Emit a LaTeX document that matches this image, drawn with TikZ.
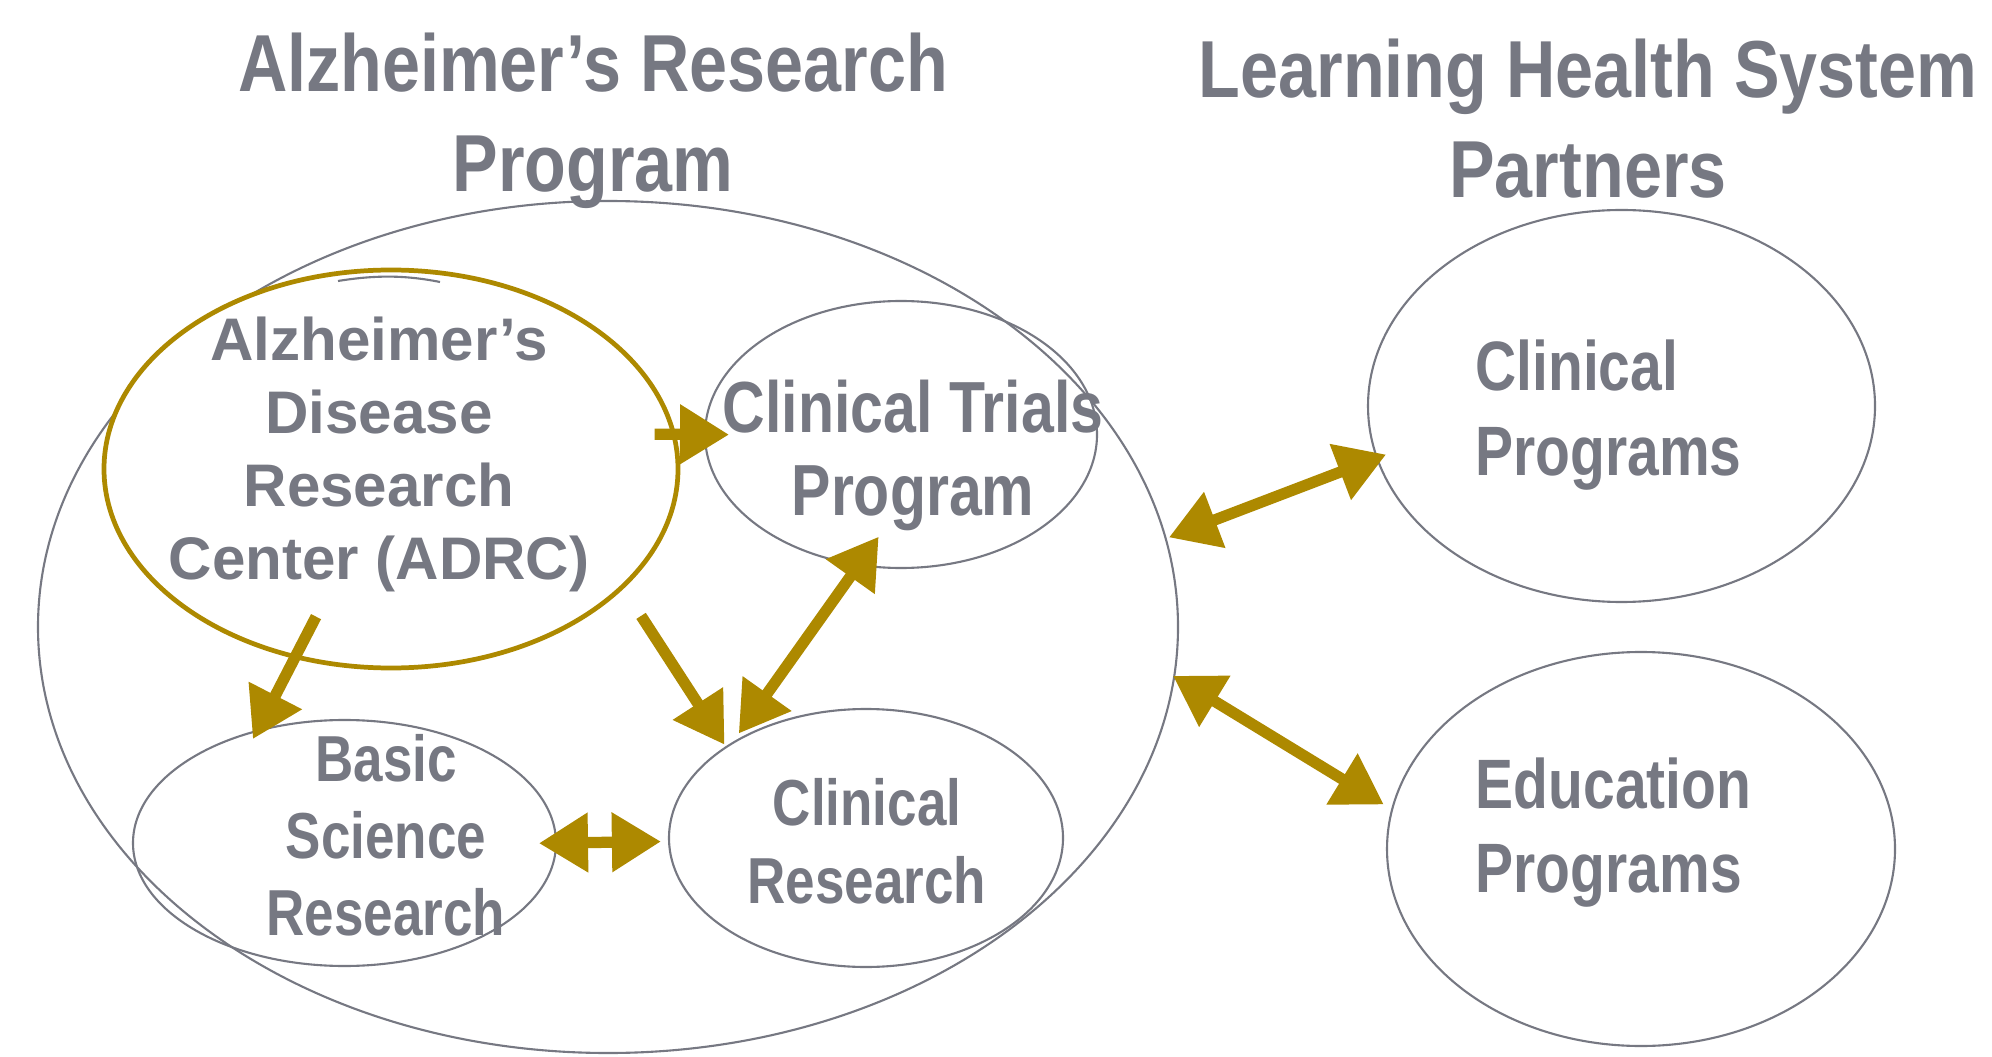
\documentclass[tikz,border=0pt]{standalone}
\usepackage{fontspec}
\setmainfont{Liberation Sans}
\newfontfamily\titlefont{Liberation Sans}[FakeStretch=0.845]
\newfontfamily\narrowfont{Liberation Sans}[FakeStretch=0.815]
\usetikzlibrary{shapes.geometric,arrows.meta}
\definecolor{lgray}{RGB}{118,120,130}
\definecolor{gold}{RGB}{173,137,0}

\begin{document}
\begin{tikzpicture}
		[circ/.style ={ellipse, draw=lgray, line width=0.6pt, inner sep=0pt, outer sep=0pt},
		adrc/.style ={circ, draw=gold, line width=1.35pt, fill=white},
		line/.style ={draw=gold, line width=3.2pt, -{Triangle[length=0.49cm,width=0.57cm]}},
		dline/.style ={line, {Triangle[length=0.49cm,width=0.57cm]}-{Triangle[length=0.49cm,width=0.57cm]}},
		heading/.style ={text=lgray, align=center, inner sep=0pt, font=\titlefont\bfseries\fontsize{23}{28.45}\selectfont},
		lbl/.style ={text=lgray, inner sep=0pt},
		]
		\useasboundingbox (0,0) rectangle (19.92,10.56);

		\draw (5.93,9.35) node[heading] (T1) {Alzheimer’s Research\\Program};
		\draw (15.88,9.375) node[heading] (T2) {Learning Health System\\Partners};

		\draw (6.08,4.29) node[circ, minimum width=11.40cm, minimum height=8.52cm] (ARP) {};
		\draw (3.91,5.87) node[adrc, minimum width=5.74cm, minimum height=3.98cm,
			label={[lbl, align=center, xshift=-0.12cm, yshift=0.145cm, font=\bfseries\fontsize{17.1}{20.8}\selectfont]center:{Alzheimer’s\\Disease\\Research\\Center (ADRC)}}] (ADRC) {};
		\draw (9.01,6.215) node[circ, minimum width=3.92cm, minimum height=2.67cm,
			label={[lbl, align=center, xshift=0.12cm, yshift=-0.205cm, font=\narrowfont\bfseries\fontsize{20.6}{23.6}\selectfont]center:{Clinical Trials\\Program}}] (CT) {};
		\draw (3.445,2.13) node[circ, minimum width=4.23cm, minimum height=2.46cm,
			label={[lbl, align=center, xshift=0.415cm, yshift=0.08cm, font=\narrowfont\bfseries\fontsize{18.5}{21.9}\selectfont]center:{Basic\\Science\\Research}}] (BSR) {};
		\draw (8.66,2.18) node[circ, minimum width=3.94cm, minimum height=2.58cm,
			label={[lbl, align=center, xshift=0.01cm, yshift=-0.035cm, font=\narrowfont\bfseries\fontsize{18.5}{22.2}\selectfont]center:{Clinical\\Research}}] (CR) {};
		\draw (16.215,6.50) node[circ, minimum width=5.07cm, minimum height=3.92cm,
			label={[lbl, align=left, xshift=-0.13cm, yshift=-0.09cm, font=\narrowfont\bfseries\fontsize{19.9}{24.2}\selectfont]center:{Clinical\\Programs}}] (CP) {};
		\draw (16.41,2.07) node[circ, minimum width=5.08cm, minimum height=3.94cm,
			label={[lbl, align=left, xshift=-0.275cm, yshift=0.165cm, font=\narrowfont\bfseries\fontsize{19.9}{23.9}\selectfont]center:{Education\\Programs}}] (EP) {};

		% stray arc under the top of the ADRC ring
		\draw[lgray, line width=0.6pt] (3.38,7.75) .. controls (3.75,7.81) and (4.05,7.81) .. (4.40,7.74);

		\path
		(ADRC.7) edge[line, shorten <=-0.19cm, shorten >=-0.24cm] (CT.west)
		(ADRC.243.3) edge[line, shorten <=-0.45cm, shorten >=-0.09cm] (BSR.128.3)
		(ADRC.-27.4) edge[line, shorten <=0.346cm, shorten >=0.03cm] (CR.147.2)
		(CR.145.3) edge[dline, shorten <=0.126cm, shorten >=-0.345cm] (CT.252.5)
		(BSR.east) edge[dline, shorten <=-0.17cm, shorten >=0.082cm] (CR.181.5)
		(ARP.9.4) edge[dline, shorten <=0.036cm, shorten >=-0.096cm] (CP.192.5)
		(ARP.-5) edge[dline, shorten <=-0.013cm, shorten >=0.098cm] (EP.171.8);
	\end{tikzpicture}
\end{document}
